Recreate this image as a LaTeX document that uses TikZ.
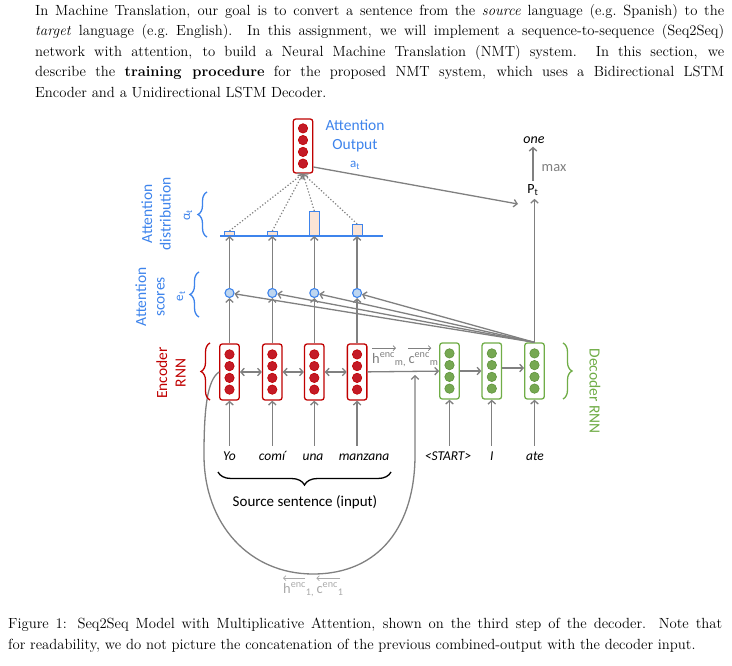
\documentclass[tikz,border=0pt]{standalone}
\usepackage{fontspec}
\usetikzlibrary{arrows,arrows.meta,decorations.pathreplacing}
\newfontfamily\diagfont{Carlito}
\definecolor{encred}{RGB}{192,0,0}
\definecolor{encdotc}{RGB}{196,26,38}
\definecolor{decgreen}{RGB}{112,173,71}
\definecolor{decdotc}{RGB}{118,168,82}
\definecolor{attblue}{RGB}{62,132,236}
\definecolor{scorefill}{RGB}{190,214,240}
\definecolor{barfill}{RGB}{251,228,213}
\definecolor{linegray}{RGB}{128,128,128}
\definecolor{palegray}{RGB}{170,170,170}

\begin{document}
\begin{tikzpicture}[x=1pt,y=-1pt,>={Straight Barb[length=3.5pt,width=7.5pt]}]
\tikzstyle{every node}=[inner sep=0pt]
\tikzstyle{encbox}=[draw=encred,fill=white,line width=1.3pt,rounded corners=2.5pt,minimum width=19.5pt,minimum height=56pt]
\tikzstyle{decbox}=[encbox,draw=decgreen]
\tikzstyle{encdot}=[fill=encdotc,draw=encred,line width=0.6pt]
\tikzstyle{decdot}=[fill=decdotc,draw=decgreen!85!black,line width=0.6pt]
\tikzstyle{score}=[circle,draw=attblue,fill=scorefill,line width=1.1pt,minimum size=9pt]
\tikzstyle{bar}=[draw=attblue,fill=barfill,line width=1.1pt,minimum width=10pt,anchor=south]
\tikzstyle{conn}=[->,draw=linegray,line width=1.3pt]
\tikzstyle{biconn}=[<->,draw=linegray,line width=1.3pt]
\tikzstyle{dotconn}=[->,draw=linegray,line width=1.2pt,dotted]
\tikzstyle{vecconn}=[-{Straight Barb[length=2.5pt,width=5pt]},draw=linegray,line width=0.7pt]
\tikzstyle{lbl}=[font=\diagfont\fontsize{15.5}{18.5}\selectfont,align=center]
\tikzstyle{small}=[font=\diagfont\fontsize{13}{15}\selectfont]
\tikzstyle{hlbl}=[font=\diagfont\fontsize{14.5}{16}\selectfont,text=linegray,anchor=base west]
\tikzstyle{word}=[font=\diagfont\itshape\fontsize{13.5}{16}\selectfont,anchor=base,text height=10pt,text depth=3pt,inner sep=4pt]
\tikzstyle{brace}=[decorate,decoration={brace,amplitude=9pt},line width=1.3pt]
\tikzstyle{textpar}=[anchor=north west,align=justify,font=\fontsize{14.7}{20.5}\selectfont]

\fill[white] (0,0) rectangle (732,666);
\useasboundingbox (0,0) rectangle (732,666);

\draw (35,4) node (intro) [textpar,text width=689pt] {In Machine Translation, our goal is to convert a sentence from the \emph{source} language (e.g.\ Spanish) to the\linebreak
\emph{target} language (e.g.\ English). In this assignment, we will implement a sequence-to-sequence (Seq2Seq)\linebreak
network with attention, to build a Neural Machine Translation (NMT) system. In this section, we\linebreak
describe the \textbf{training procedure} for the proposed NMT system, which uses a Bidirectional LSTM\linebreak
Encoder and a Unidirectional LSTM Decoder.};

\draw (303,146) node (ao) [encbox,minimum height=54pt] {};
\draw (229.5,372) node (e1) [encbox] {};
\draw (272.3,372) node (e2) [encbox] {};
\draw (314.3,372) node (e3) [encbox] {};
\draw (357.1,372) node (e4) [encbox] {};
\draw (449.5,371) node (d1) [decbox] {};
\draw (491.8,371) node (d2) [decbox] {};
\draw (534.5,371) node (d3) [decbox] {};
\foreach \n in {ao,e1,e2,e3,e4}
  \foreach \k in {-17.6,-5.9,5.9,17.6}
    \draw[encdot] ([yshift=\k pt]\n.center) circle (4.7pt);
\foreach \n in {d1,d2,d3}
  \foreach \k in {-17.6,-5.9,5.9,17.6}
    \draw[decdot] ([yshift=\k pt]\n.center) circle (4.7pt);

\draw (229.5,293) node (s1) [score] {};
\draw (272.3,293) node (s2) [score] {};
\draw (314.3,293) node (s3) [score] {};
\draw (357.1,293) node (s4) [score] {};
\draw (229.5,236) node (b1) [bar,minimum height=4pt] {};
\draw (272.3,236) node (b2) [bar,minimum height=4pt] {};
\draw (314.3,236) node (b3) [bar,minimum height=24pt] {};
\draw (357.1,236) node (b4) [bar,minimum height=11pt] {};
\draw[attblue,line width=1.3pt] (220,236) -- (383,236);

\foreach \i in {1,...,4} {
  \draw[conn] (e\i) -- (s\i);
  \draw[conn] (s\i) -- (s\i |- b\i.south);
  \draw[conn] (d3.north) -- (s\i);
  \draw[dotconn] (b\i.north) -- (ao.south);
}
\draw[biconn] (e1) -- (e2);
\draw[biconn] (e2) -- (e3);
\draw[biconn] (e3) -- (e4);
\draw[conn] (e4) -- (d1);
\draw[conn] (d1) -- (d2);
\draw[conn] ([yshift=3pt]d2.east) -- ([yshift=3pt]d3.west);

\draw (229.5,460) node (w1) [word] {Yo};
\draw (272,460) node (w2) [word] {comí};
\draw (313,460) node (w3) [word] {una};
\draw (364,460) node (w4) [word] {manzana};
\draw (448,460) node (dw1) [word] {<START>};
\draw (491.8,460) node (dw2) [word] {I};
\draw (535,460) node (dw3) [word] {ate};
\foreach \i in {1,...,4}
  \draw[conn] (w\i.north -| e\i) -- (e\i.south);
\foreach \i in {1,...,3}
  \draw[conn] (dw\i.north -| d\i) -- (d\i.south);

\coordinate (merge) at (415,375);
\draw[conn] (e1.west) .. controls (207,380) and (204,410) .. (204,455)
  .. controls (204,525) and (250,574) .. (313,574)
  .. controls (380,574) and (415,525) .. (415,455) -- (merge);

\draw (533,190) node (pt) [font=\diagfont\fontsize{14}{16}\selectfont,inner sep=3pt] {P\textsubscript{t}};
\draw (534,140) node (one) [font=\diagfont\itshape\fontsize{14}{16}\selectfont,inner sep=3pt] {one};
\draw (554,168) node (maxlbl) [small,font=\diagfont\fontsize{14.5}{16}\selectfont,text=linegray] {max};
\coordinate (ptin) at (518,204);
\draw[conn] (d3.north) -- (d3.north |- pt.south);
\draw[conn] (pt.north) -- (pt.north |- one.south);
\draw[conn] ([yshift=-21pt]ao.east) -- (ptin);

\draw (355,136) node (aolbl) [lbl,text=attblue] {Attention\\Output};
\draw (355,165) node (atlbl) [small,text=attblue] {a\textsubscript{t}};
\draw (171,373) node (enclbl) [lbl,text=encred,rotate=90] {Encoder\\RNN};
\draw (150,297) node (scorelbl) [lbl,text=attblue,rotate=90] {Attention\\scores};
\draw (156,214) node (distlbl) [lbl,text=attblue,rotate=90] {Attention\\distribution};
\draw (181,296) node (etlbl) [small,text=attblue,rotate=90] {e\textsubscript{t}};
\draw (188,215) node (alphalbl) [small,text=attblue,rotate=90] {α\textsubscript{t}};
\draw (595,391) node (declbl) [lbl,text=decgreen,rotate=-90] {Decoder RNN};

\draw[brace,draw=encred] (210,400) -- (210,343);
\draw[brace,draw=attblue] (199,317) -- (199,272);
\draw[brace,draw=attblue] (207,237) -- (207,192);
\draw[brace,draw=decgreen] (563,343) -- (563,399);
\draw[brace,decoration={amplitude=13pt}] (391,472) -- (218,472);
\draw (305,502) node (srclbl) [lbl,font=\diagfont\fontsize{15}{18}\selectfont] {Source sentence (input)};

\draw (372,363) node (hm) [hlbl] {h\textsuperscript{enc}\textsubscript{m,}};
\draw (hm.base east) node (cm) [hlbl,xshift=2pt] {c\textsuperscript{enc}\textsubscript{m}};
\draw[vecconn] ([yshift=4.5pt]hm.north west) -- +(24,0);
\draw[vecconn] ([yshift=4.5pt]cm.north west) -- +(23,0);
\draw (283,593) node (h1) [hlbl,text=palegray] {h\textsuperscript{enc}\textsubscript{1,}};
\draw (h1.base east) node (c1) [hlbl,text=palegray,xshift=2pt] {c\textsuperscript{enc}\textsubscript{1}};
\draw[vecconn,draw=palegray] ([shift={(22pt,4.5pt)}]h1.north west) -- +(-22,0);
\draw[vecconn,draw=palegray] ([shift={(24pt,4.5pt)}]c1.north west) -- +(-24,0);

\draw (8,618) node (caption) [textpar,text width=714pt] {Figure 1: Seq2Seq Model with Multiplicative Attention, shown on the third step of the decoder. Note that\linebreak
for readability, we do not picture the concatenation of the previous combined-output with the decoder input.};
\end{tikzpicture}
\end{document}
